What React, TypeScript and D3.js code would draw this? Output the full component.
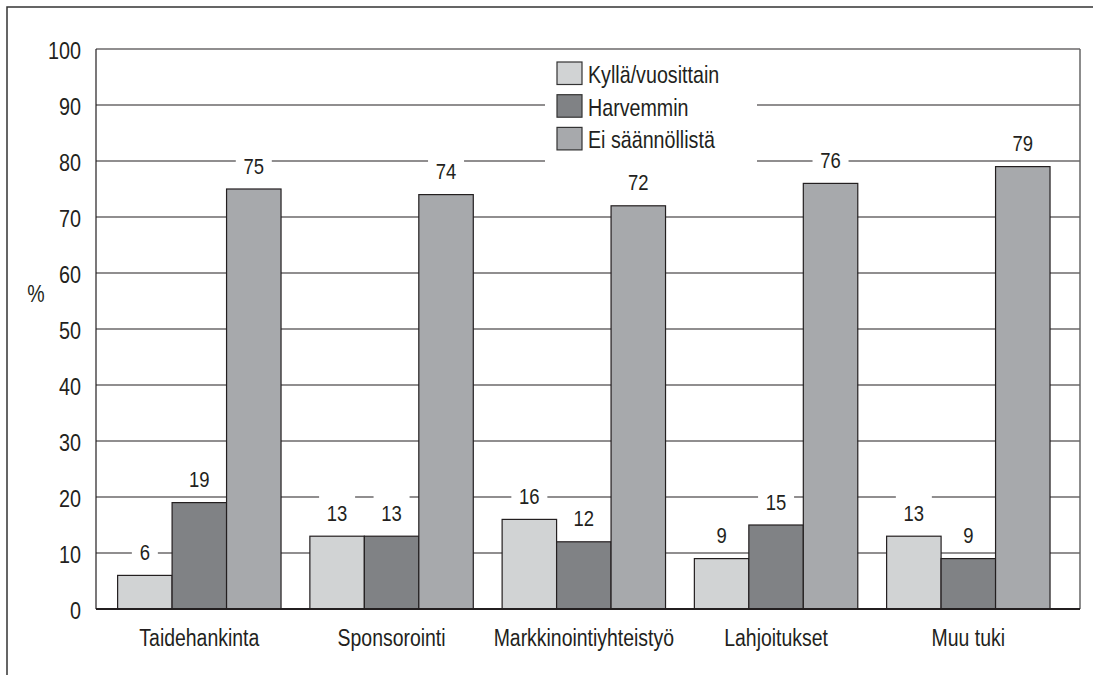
import React from "react";
import * as d3 from "d3";

const categories = ["Taidehankinta", "Sponsorointi", "Markkinointiyhteistyö", "Lahjoitukset", "Muu tuki"];
const seriesNames = ["Kyllä/vuosittain", "Harvemmin", "Ei säännöllistä"];
const kyllaValues = [6, 13, 16, 9, 13];
const harvemminValues = [19, 13, 12, 15, 9];
const eiValues = [75, 74, 72, 76, 79];
const yTicks = [0, 10, 20, 30, 40, 50, 60, 70, 80, 90, 100];
const colors = ["#d1d3d4", "#808285", "#a7a9ac"];

const FONT = "'Liberation Sans', Arial, Helvetica, sans-serif";

function T({ x, y, size, anchor = "start", sx = 0.85, children }: any) {
  return (
    <text
      transform={`translate(${x},${y}) scale(${sx},1)`}
      x={0}
      y={0}
      textAnchor={anchor}
      fontSize={size}
      fill="#231f20"
    >
      {children}
    </text>
  );
}

export default function App() {
  const W = 1093, H = 675;
  const left = 96, right = 1080, top = 49, bottom = 609;
  const seriesValues = [kyllaValues, harvemminValues, eiValues];

  const y = d3.scaleLinear().domain([0, 100]).range([bottom, top]);
  const x0 = d3.scaleBand<string>().domain(categories).range([103.2, 1064.45]).paddingInner(0.15).paddingOuter(0.075);
  const x1 = d3.scaleBand<string>().domain(seriesNames).range([0, x0.bandwidth()]).padding(0);

  const labels: { x: number; y: number; text: string }[] = [];
  categories.forEach((c, ci) => {
    seriesNames.forEach((s, si) => {
      const v = seriesValues[si][ci];
      labels.push({ x: (x0(c) as number) + (x1(s) as number) + x1.bandwidth() / 2, y: y(v) - 23.5, text: String(v) });
    });
  });

  return (
    <svg width={W} height={H} style={{ display: "block", position: "absolute", left: 0, top: 0 }} fontFamily={FONT}>
      <rect x={0} y={0} width={W} height={H} fill="#fff" />
      <rect x={7} y={7} width={1200} height={800} fill="none" stroke="#333" strokeWidth={1.5} />

      {/* gridlines */}
      {yTicks.map((t) => (
        <line key={"g" + t} x1={left} x2={right} y1={y(t)} y2={y(t)} stroke="#231f20" strokeWidth={1.2} />
      ))}
      {/* right plot border */}
      <line x1={right} x2={right} y1={top} y2={bottom} stroke="#666" strokeWidth={1.5} />

      {/* legend background */}
      <rect x={545} y={52} width={212} height={116} fill="#fff" />

      {/* label backgrounds */}
      {labels.map((l, i) => (
        <rect key={"lb" + i} x={l.x - (l.text.length * 10 + 16) / 2} y={l.y - 17} width={l.text.length * 10 + 16} height={32} fill="#fff" />
      ))}

      {/* bars */}
      {categories.map((c, ci) => (
        <g key={c} transform={`translate(${x0(c)},0)`}>
          {seriesNames.map((s, si) => {
            const v = seriesValues[si][ci];
            return (
              <rect key={s} x={x1(s)} y={y(v)} width={x1.bandwidth()} height={bottom - y(v)} fill={colors[si]} stroke="#231f20" strokeWidth={1.2} />
            );
          })}
        </g>
      ))}

      {/* axes */}
      <line x1={left} x2={left} y1={top} y2={bottom} stroke="#231f20" strokeWidth={1.2} />
      <line x1={left} x2={right} y1={bottom} y2={bottom} stroke="#231f20" strokeWidth={2.2} />

      {/* value labels */}
      {labels.map((l, i) => (
        <T key={"l" + i} x={l.x} y={l.y + 8} anchor="middle" size={22} sx={0.84}>{l.text}</T>
      ))}

      {/* y tick labels */}
      {yTicks.map((t) => (
        <T key={"t" + t} x={81} y={y(t) + 10} anchor="end" size={23} sx={0.86}>{t}</T>
      ))}
      <T x={36} y={302} anchor="middle" size={23}>%</T>

      {/* x labels */}
      {categories.map((c) => (
        <T key={"x" + c} x={(x0(c) as number) + x0.bandwidth() / 2} y={646} anchor="middle" size={24} sx={0.81}>{c}</T>
      ))}

      {/* legend */}
      {seriesNames.map((s, i) => (
        <g key={"lg" + s} transform={`translate(557,${62 + i * 32.7})`}>
          <rect x={0} y={0} width={25} height={22.5} fill={colors[i]} stroke="#333" strokeWidth={1.2} />
          <T x={31} y={21} size={24} sx={0.82}>{s}</T>
        </g>
      ))}
    </svg>
  );
}
